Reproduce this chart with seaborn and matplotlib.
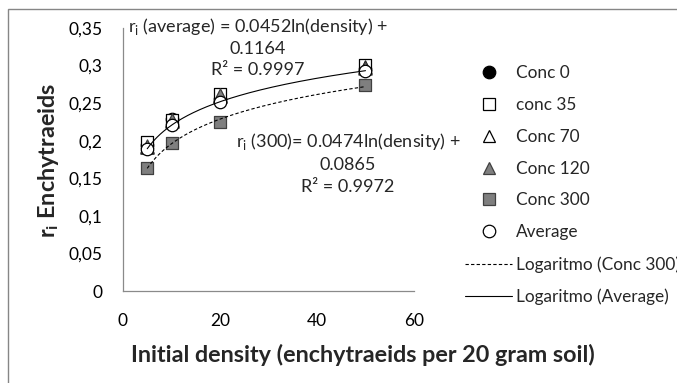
import numpy as np
import pandas as pd
import matplotlib
matplotlib.use("Agg")
import matplotlib.pyplot as plt
from matplotlib.lines import Line2D
from matplotlib.patches import Rectangle
import seaborn as sns

sns.set_style("white")
plt.rcParams['font.family'] = ['Lato', 'DejaVu Sans']

density = [5, 10, 20, 50]
series_names = ["Conc 0", "conc 35", "Conc 70", "Conc 120", "Conc 300", "Average"]
conc0 = [0.194, 0.229, 0.255, 0.295]
conc35 = [0.198, 0.228, 0.262, 0.301]
conc70 = [0.192, 0.226, 0.259, 0.298]
conc120 = [0.193, 0.227, 0.261, 0.297]
conc300 = [0.164, 0.197, 0.225, 0.274]
average = [0.189, 0.221, 0.252, 0.293]
x_ticks = [0, 20, 40, 60]
y_ticks = [0, 0.05, 0.1, 0.15, 0.2, 0.25, 0.3, 0.35]
y_ticklabels = ["0", "0,05", "0,1", "0,15", "0,2", "0,25", "0,3", "0,35"]
eq_avg = "r$_\\mathregular{i}$ (average) = 0.0452ln(density) +\n0.1164\nR² = 0.9997"
eq_300 = "r$_\\mathregular{i}$ (300)= 0.0474ln(density) +\n0.0865\nR² = 0.9972"

values = [conc0, conc35, conc70, conc120, conc300, average]
df = pd.DataFrame({
    "density": density * len(series_names),
    "ri": sum(values, []),
    "series": sum([[s] * len(density) for s in series_names], []),
})

styles = {
    "Conc 0": dict(marker="o", facecolor="black", edgecolor="black", s=80),
    "conc 35": dict(marker="s", facecolor="white", edgecolor="black", s=85),
    "Conc 70": dict(marker="^", facecolor="white", edgecolor="black", s=90),
    "Conc 120": dict(marker="^", facecolor="#7f7f7f", edgecolor="#404040", s=90),
    "Conc 300": dict(marker="s", facecolor="#7f7f7f", edgecolor="#404040", s=85),
    "Average": dict(marker="o", facecolor="white", edgecolor="black", s=80),
}

fig = plt.figure(figsize=(6.77, 3.83), dpi=100)
ax = fig.add_axes([123/677, 1 - 291/383, (414 - 123)/677, (291 - 28)/383])

for name in series_names:
    st = styles[name]
    sub = df[df["series"] == name]
    sns.scatterplot(data=sub, x="density", y="ri", ax=ax, marker=st["marker"],
                    color=st["facecolor"], edgecolor=st["edgecolor"], s=st["s"],
                    linewidth=0.9, legend=False, zorder=3)

xs = np.linspace(min(density), max(density), 200)
for vals, ls in [(conc300, (0, (3, 2))), (average, "-")]:
    b, a = np.polyfit(np.log(density), vals, 1)
    sns.lineplot(x=xs, y=b * np.log(xs) + a, ax=ax, color="black", linewidth=0.8,
                 linestyle=ls, zorder=4, legend=False)

ax.set_xlim(0, 60)
ax.set_ylim(0, 0.35)
ax.set_xticks(x_ticks)
ax.set_yticks(y_ticks)
ax.set_yticklabels(y_ticklabels)
for sp in ["top", "right"]:
    ax.spines[sp].set_visible(False)
for sp in ["left", "bottom"]:
    ax.spines[sp].set_color("#8a8a8a")
    ax.spines[sp].set_linewidth(0.9)
ax.tick_params(axis="both", which="major", direction="out", length=4.5, width=0.9,
               color="#8a8a8a", labelsize=12.5, labelcolor="black")
ax.tick_params(axis="y", pad=10)
ax.tick_params(axis="x", pad=11)
ax.set_xlabel("Initial density (enchytraeids per 20 gram soil)", fontsize=16.8,
              fontweight="bold", va="center")
ax.xaxis.set_label_coords((363 - 123) / 291, (291 - 355) / 263)
ax.set_ylabel("r$_\\mathregular{i}$ Enchytraeids", fontsize=16.8, fontweight="bold", va="center")
ax.yaxis.set_label_coords((48 - 123) / 291, (291 - 160) / 263)

ax.text(258/677, 1 - 47/383, eq_avg, transform=fig.transFigure, ha="center", va="center",
        fontsize=13, linespacing=1.34)
ax.text(348/677, 1 - 163/383, eq_300, transform=fig.transFigure, ha="center", va="center",
        fontsize=13, linespacing=1.43)

handles = []
for name in series_names:
    st = styles[name]
    handles.append(Line2D([], [], linestyle="none", marker=st["marker"],
                          markerfacecolor=st["facecolor"], markeredgecolor=st["edgecolor"],
                          markersize=9, markeredgewidth=0.9))
handles.append(Line2D([], [], color="black", linewidth=0.8, linestyle=(0, (3, 2))))
handles.append(Line2D([], [], color="black", linewidth=0.8, linestyle="-"))
labels = series_names + ["Logaritmo (Conc 300)", "Logaritmo (Average)"]
fig.legend(handles, labels, loc="upper left", bbox_to_anchor=(465/677, 1 - 65/383),
           frameon=False, fontsize=12.4, handlelength=2.75, handletextpad=0.22,
           labelspacing=0.92, borderpad=0, borderaxespad=0)

fig.add_artist(Rectangle((8/677, -0.05), 1.2, 1 - 9/383 + 0.05, transform=fig.transFigure,
                         fill=False, edgecolor="#868686", linewidth=1.0))

fig.savefig("out.png", dpi=100)
